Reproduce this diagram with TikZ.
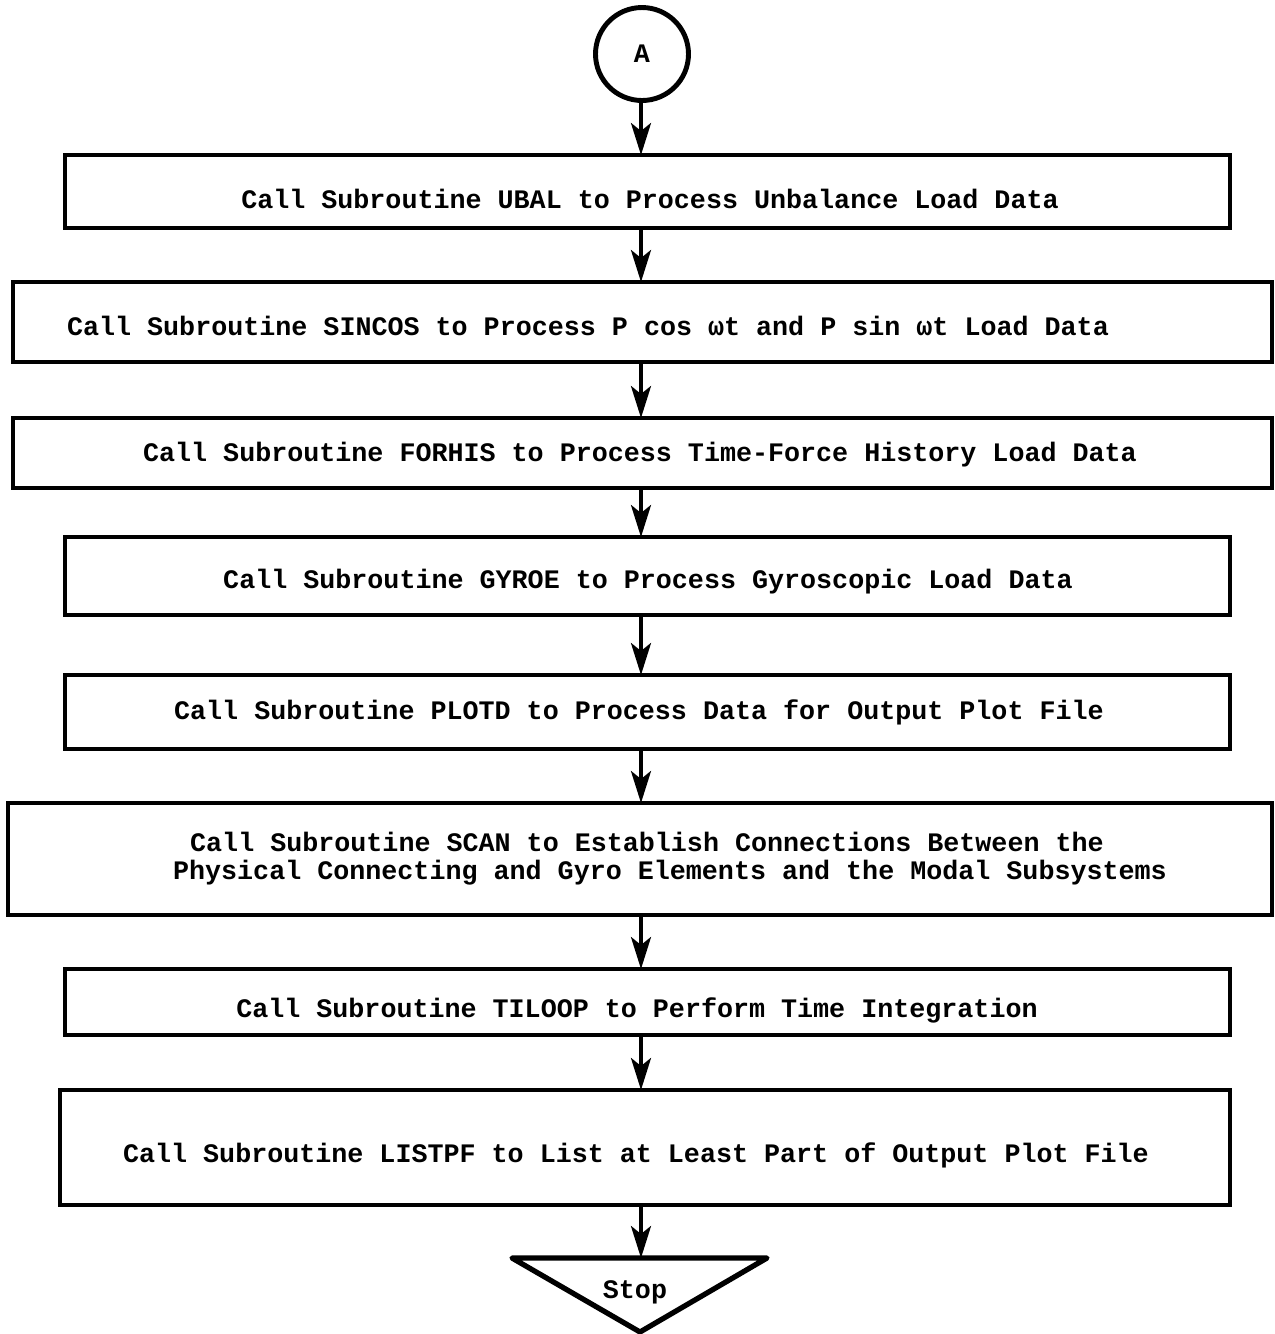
\documentclass[tikz,border=0pt]{standalone}
\usepackage{fontspec}
\setmonofont{Liberation Mono}
\usetikzlibrary{arrows.meta,calc}
\begin{document}
\begin{tikzpicture}[x=0.1mm,y=-0.1mm,
  every node/.style={font=\ttfamily\bfseries\fontsize{7.6}{8.8}\selectfont, inner sep=0pt, outer sep=0pt},
  box/.style 2 args={draw, line width=1.1pt, minimum width=#1*0.1mm, minimum height=#2*0.1mm},
  arr/.style={line width=1.1pt, -{Stealth[length=3.2mm,width=2mm,inset=0.8mm]}}]
\useasboundingbox (0,0) rectangle (1275,1334);
% connector circle
\node[draw, circle, line width=1.4pt, minimum size=9.3mm] (A) at (642,54) {A};
% boxes
\node[box={1165}{73}] (b1) at (647.5,191.5) {};
\node (t1) at (650,199) {Call Subroutine UBAL to Process Unbalance Load Data};
\node[box={1259}{80}] (b2) at (642.5,322) {};
\node (t2) at (588,326) {Call Subroutine SINCOS to Process P cos ωt and P sin ωt Load Data};
\node[box={1259}{70}] (b3) at (642.5,453) {};
\node (t3) at (640,455) {Call Subroutine FORHIS to Process Time-Force History Load Data};
\node[box={1165}{78}] (b4) at (647.5,576) {};
\node (t4) at (648,582) {Call Subroutine GYROE to Process Gyroscopic Load Data};
\node[box={1165}{74}] (b5) at (647.5,712) {};
\node (t5) at (639,712) {Call Subroutine PLOTD to Process Data for Output Plot File};
\node[box={1264}{112}] (b6) at (640,859) {};
\node (t6a) at (647,842) {Call Subroutine SCAN to Establish Connections Between the};
\node (t6b) at (670,873) {Physical Connecting and Gyro Elements and the Modal Subsystems};
\node[box={1165}{66}] (b7) at (647.5,1002) {};
\node (t7) at (637,1010) {Call Subroutine TILOOP to Perform Time Integration};
\node[box={1170}{115}] (b8) at (645,1147.5) {};
\node (t8) at (636,1155) {Call Subroutine LISTPF to List at Least Part of Output Plot File};
% stop triangle
\coordinate (stl) at (512,1258);
\coordinate (str) at (767,1258);
\coordinate (sta) at (640,1332);
\coordinate (stoptop) at (641,1258);
\draw[line width=1.5pt, line join=round] (stl) -- (str) -- (sta) -- cycle;
\node (stop) at (635,1292) {Stop};
% connectors
\draw[arr] (A.south -| 641,0) -- (b1.north -| 641,0);
\draw[arr] (b1.south -| 641,0) -- (b2.north -| 641,0);
\draw[arr] (b2.south -| 641,0) -- (b3.north -| 641,0);
\draw[arr] (b3.south -| 641,0) -- (b4.north -| 641,0);
\draw[arr] (b4.south -| 641,0) -- (b5.north -| 641,0);
\draw[arr] (b5.south -| 641,0) -- (b6.north -| 641,0);
\draw[arr] (b6.south -| 641,0) -- (b7.north -| 641,0);
\draw[arr] (b7.south -| 641,0) -- (b8.north -| 641,0);
\draw[arr] (b8.south -| 641,0) -- (stoptop);
\end{tikzpicture}
\end{document}
